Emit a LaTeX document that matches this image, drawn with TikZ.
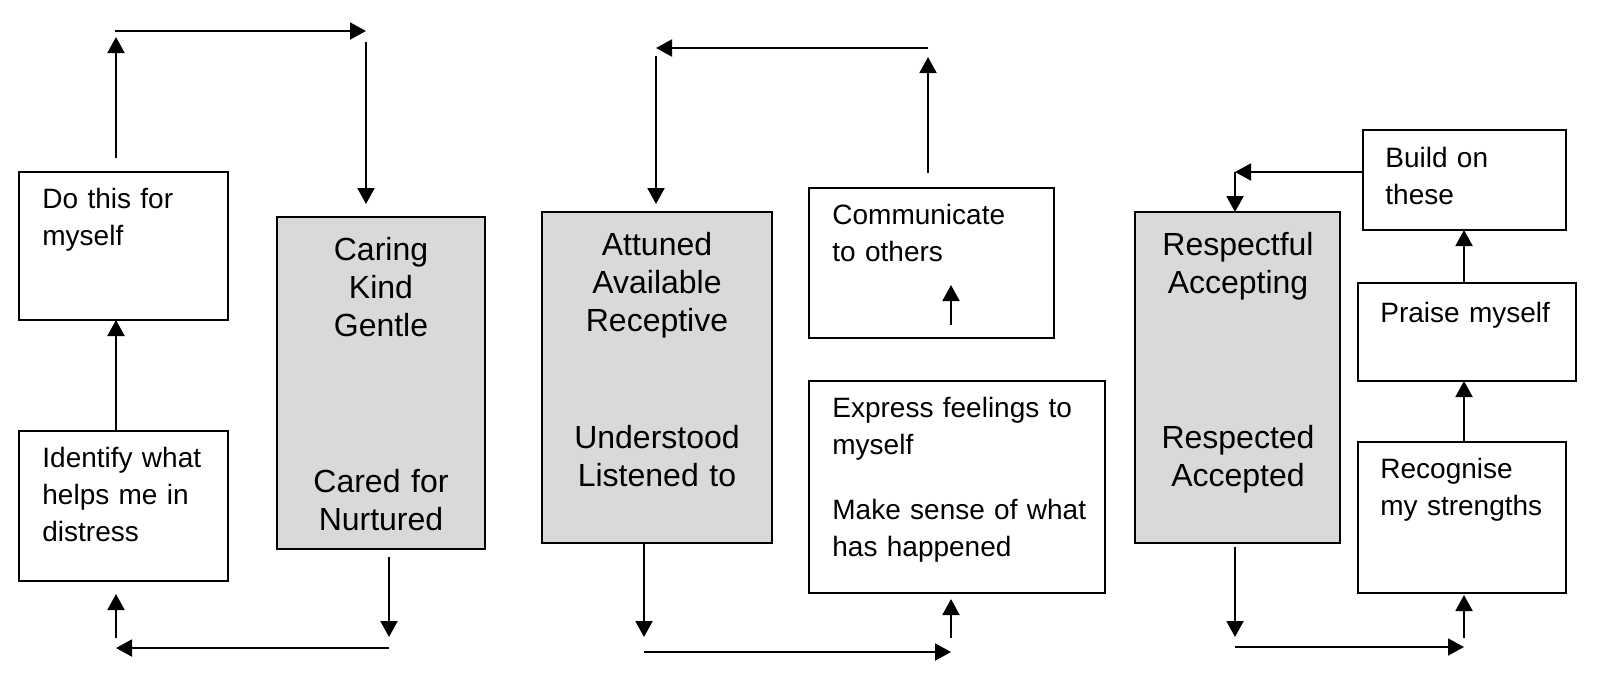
\documentclass[tikz,border=0pt]{standalone}
\usepackage{fontspec}
\setmainfont{Liberation Sans}
\usepackage{xcolor}
\usetikzlibrary{arrows.meta,calc}
\definecolor{boxgrey}{RGB}{217,217,217}

\begin{document}
\begin{tikzpicture}[x=0.5pt,y=-0.5pt,>={Triangle[length=8pt,width=8.5pt]},
    arr/.style={->,line width=1pt},
    whitebox/.style={draw,line width=1.2pt,fill=white,anchor=north west,inner sep=0pt,outer sep=0pt},
    greybox/.style={whitebox,fill=boxgrey},
    lefttext/.style={anchor=base west,inner sep=0pt,text width=160pt,align=left,font=\fontsize{14}{18.5}\selectfont},
    midtext/.style={anchor=base,inner sep=0pt,text width=110pt,align=center,font=\fontsize{16}{19}\selectfont}]
    \useasboundingbox (0,0) rectangle (1600,677);

                    \node [whitebox, minimum width=104.5pt, minimum height=74pt](do) at (19,172) {};
                    \node [whitebox, minimum width=104.5pt, minimum height=75pt](ident) at (19,431) {};
                    \node [greybox, minimum width=104pt, minimum height=166pt](caring) at (277,217) {};

                    \node [greybox, minimum width=115pt, minimum height=165.5pt](attuned) at (542,212) {};
                    \node [whitebox, minimum width=122.5pt, minimum height=75pt](comm) at (809,188) {};
                    \node [whitebox, minimum width=148pt, minimum height=106pt](express) at (809,381) {};

                    \node [greybox, minimum width=102.5pt, minimum height=165.5pt](respect) at (1135,212) {};
                    \node [whitebox, minimum width=101.5pt, minimum height=50pt](build) at (1363,130) {};
                    \node [whitebox, minimum width=109pt, minimum height=49pt](praise) at (1358,283) {};
                    \node [whitebox, minimum width=104pt, minimum height=75.5pt](recog) at (1358,442) {};

                    \node [lefttext](do-t) at (42,208) {Do this for\\myself};
                    \node [lefttext](ident-t) at (42,467) {Identify what\\helps me in\\distress};
                    \node [midtext](caring-a) at (381,260) {Caring\\Kind\\Gentle};
                    \node [midtext](caring-b) at (381,492) {Cared for\\Nurtured};

                    \node [midtext](attuned-a) at (657,255) {Attuned\\Available\\Receptive};
                    \node [midtext](attuned-b) at (657,448) {Understood\\Listened to};
                    \node [lefttext](comm-t) at (832,224) {Communicate\\to others};
                    \node [lefttext](express-t) at (832,417) {Express feelings to\\myself\\[14pt]Make sense of what\\has happened};

                    \node [midtext](respect-a) at (1238,255) {Respectful\\Accepting};
                    \node [midtext](respect-b) at (1238,448) {Respected\\Accepted};
                    \node [lefttext](build-t) at (1385,167) {Build on\\these};
                    \node [lefttext](praise-t) at (1380,322) {Praise myself};
                    \node [lefttext](recog-t) at (1380,478) {Recognise\\my strengths};

                    \coordinate (tl1) at (116,31);
                    \coordinate (tr1) at (366,31);
                    \coordinate (bl1) at (116,648);
                    \coordinate (br1) at (389,648);

                    \coordinate (tl2) at (656,48);
                    \coordinate (tr2) at (928,48);
                    \coordinate (bl2) at (644,652);
                    \coordinate (br2) at (951,652);

                    \coordinate (tc3) at (1235,172);
                    \coordinate (bl3) at (1235,647);
                    \coordinate (br3) at (1464,647);

                    \draw[arr] (ident.north -| tl1) -- (do.south -| tl1);
                    \draw[arr] ($(do.north -| tl1)+(0,-14)$) -- ($(tl1)+(0,6)$);
                    \draw[arr] ($(tl1)+(-1,0)$) -- (tr1);
                    \draw[arr] ($(tr1)+(0,11)$) -- ($(caring.north -| tr1)+(0,-13)$);
                    \draw[arr] ($(caring.south -| br1)+(0,8)$) -- ($(br1)+(0,-11)$);
                    \draw[arr] (br1) -- (bl1);
                    \draw[arr] ($(bl1)+(0,-10)$) -- ($(ident.south -| bl1)+(0,13)$);

                    \draw[arr] ($(comm.north -| tr2)+(0,-15)$) -- ($(tr2)+(0,9)$);
                    \draw[arr] (tr2) -- (tl2);
                    \draw[arr] ($(tl2)+(0,8)$) -- ($(attuned.north -| tl2)+(0,-8)$);
                    \draw[arr] (attuned.south -| bl2) -- ($(bl2)+(0,-15)$);
                    \draw[arr] (bl2) -- (br2);
                    \draw[arr] ($(br2)+(0,-14)$) -- ($(express.south -| br2)+(0,6)$);
                    \draw[arr] ($(comm.south -| br2)+(0,-13)$) -- ($(comm.south -| br2)+(0,-53)$);

                    \draw[arr] (build.west |- tc3) -- (tc3);
                    \draw[arr] (tc3) -- (respect.north -| tc3);
                    \draw[arr] ($(respect.south -| bl3)+(0,4)$) -- ($(bl3)+(0,-10)$);
                    \draw[arr] (bl3) -- (br3);
                    \draw[arr] ($(br3)+(0,-9)$) -- ($(recog.south -| br3)+(0,2)$);
                    \draw[arr] (recog.north -| br3) -- (praise.south -| br3);
                    \draw[arr] (praise.north -| br3) -- (build.south -| br3);

                \end{tikzpicture}
\end{document}
